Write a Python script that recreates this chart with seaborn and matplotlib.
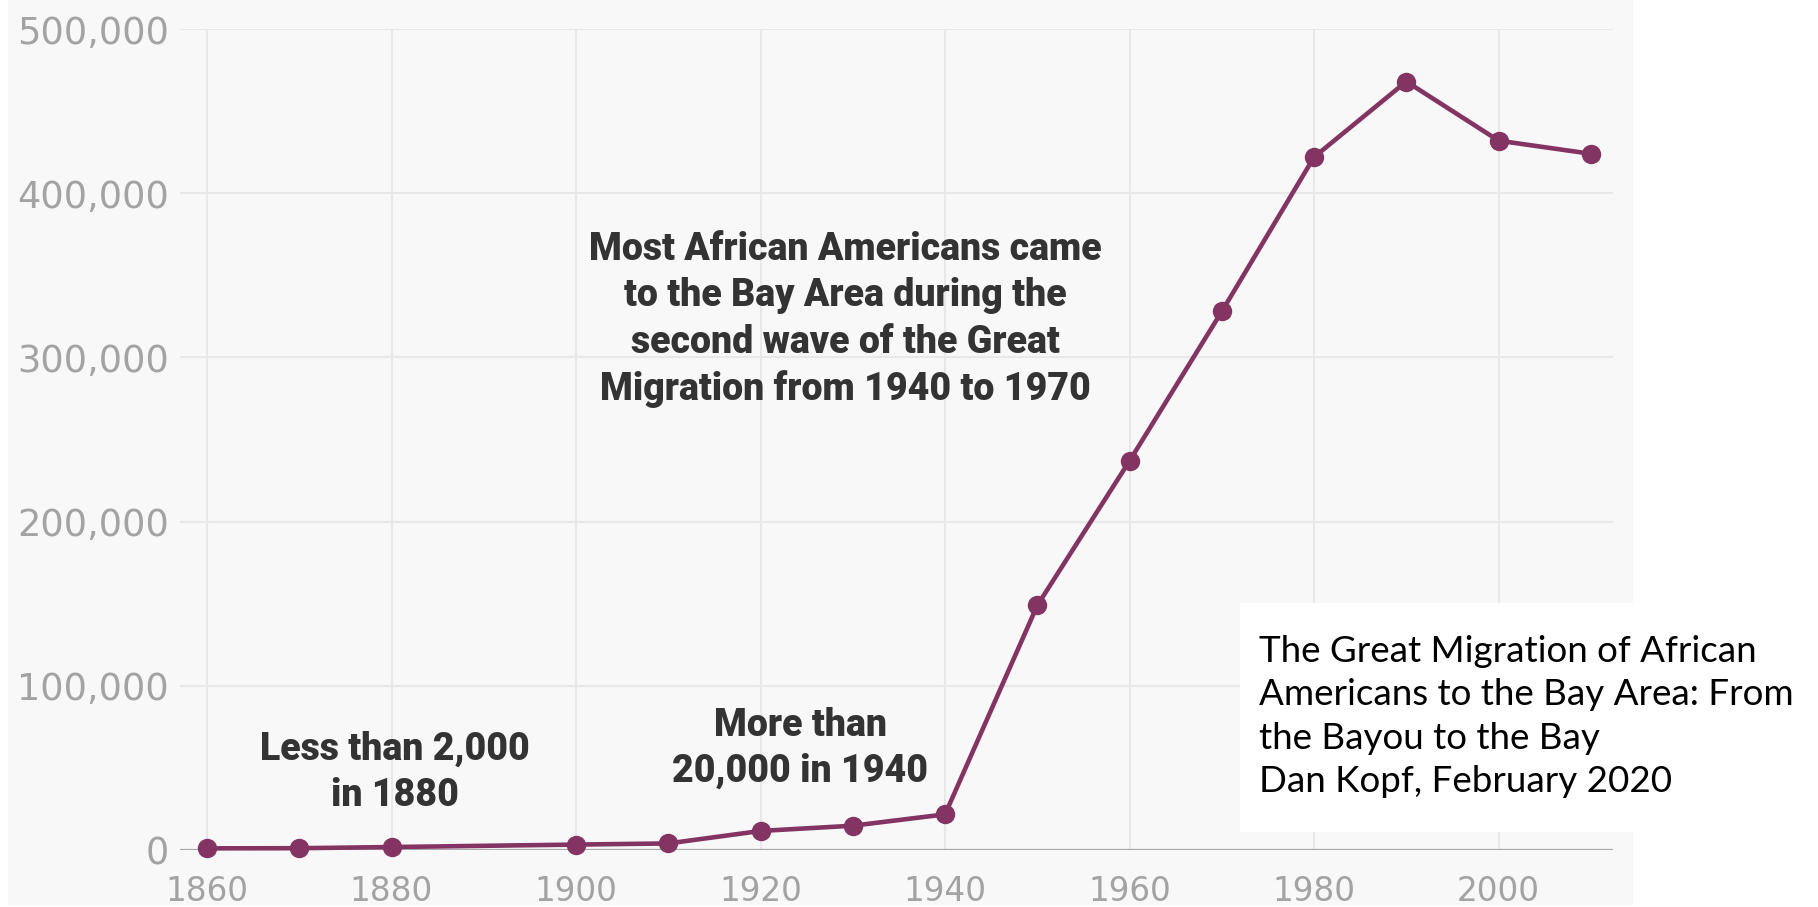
import matplotlib
matplotlib.use("Agg")
import matplotlib.pyplot as plt
import seaborn as sns
import pandas as pd
from matplotlib.patches import Rectangle
from matplotlib.ticker import FuncFormatter, FixedLocator

# ---------------- data ----------------
years = [1860, 1870, 1880, 1900, 1910, 1920, 1930, 1940, 1950, 1960, 1970, 1980, 1990, 2000, 2010]
population = [1000, 1100, 1800, 3300, 4000, 11600, 14800, 21700, 149000, 237000, 328000, 422000, 468000, 432000, 424000]
x_ticks = [1860, 1880, 1900, 1920, 1940, 1960, 1980, 2000]
y_ticks = [0, 100000, 200000, 300000, 400000, 500000]

note_texts = [
    "Less than 2,000\nin 1880",
    "More than\n20,000 in 1940",
    "Most African Americans came\nto the Bay Area during the\nsecond wave of the Great\nMigration from 1940 to 1970",
]
note_x = [1880.4, 1924.3, 1929.2]
note_y = [47000, 62000, 323000]

source_text = ("The Great Migration of African\nAmericans to the Bay Area: From\n"
               "the Bayou to the Bay\nDan Kopf, February 2020")

df = pd.DataFrame({"year": years, "population": population})

# ---------------- style ----------------
sns.set_style("white")
plt.rcParams["font.family"] = ["DejaVu Sans"]

W, H = 1818, 907
fig = plt.figure(figsize=(W / 100, H / 100), dpi=100)
fig.patch.set_facecolor("white")

# grey chart background
fig.patches.append(Rectangle((8 / W, 2 / H), (1633 - 8) / W, 1 - 2 / H,
                             transform=fig.transFigure, facecolor="#f8f8f8",
                             edgecolor="none", zorder=-5))

ax = fig.add_axes([180 / W, 1 - 850 / H, (1613 - 180) / W, (850 - 29) / H])
ax.set_facecolor("none")
ax.set_zorder(1)

line_color = "#843463"
sns.lineplot(data=df, x="year", y="population", ax=ax, color=line_color,
             linewidth=3.3, marker="o", markersize=14, markeredgewidth=0,
             clip_on=False, zorder=5)

ax.set_xlim(1857.07, 2012.4)
ax.set_ylim(0, 500000)
ax.xaxis.set_major_locator(FixedLocator(x_ticks))
ax.yaxis.set_major_locator(FixedLocator(y_ticks))
ax.yaxis.set_major_formatter(FuncFormatter(lambda v, p: f"{int(v):,}"))

ax.grid(True, color="#e8e8e8", linewidth=1.5)
ax.set_axisbelow(True)
for s in ax.spines.values():
    s.set_visible(False)
ax.axhline(0, color="#a9a9a9", linewidth=1.6, zorder=2)

ax.tick_params(axis="both", length=0, colors="#a3a3a3")
ax.tick_params(axis="y", labelsize=26.5, pad=8)
ax.tick_params(axis="x", labelsize=23.5, pad=18)
ax.set_xlabel("")
ax.set_ylabel("")

for t, x, y in zip(note_texts, note_x, note_y):
    ax.text(x, y, t, ha="center", va="center", multialignment="center",
            fontsize=27, fontweight="black", color="#333333",
            family=["Roboto", "DejaVu Sans"], linespacing=1.32, zorder=6)

# source box
fig.patches.append(Rectangle((1240 / W, 1 - 832 / H), (W - 1240) / W, (832 - 603) / H,
                             transform=fig.transFigure, facecolor="white",
                             edgecolor="none", zorder=10))
fig.text(1259 / W, 1 - 635 / H, source_text, ha="left", va="top",
         fontsize=26.5, color="black", family=["Lato", "DejaVu Sans"],
         linespacing=1.38, zorder=11)

fig.savefig("out.png", dpi=100, facecolor="white")
